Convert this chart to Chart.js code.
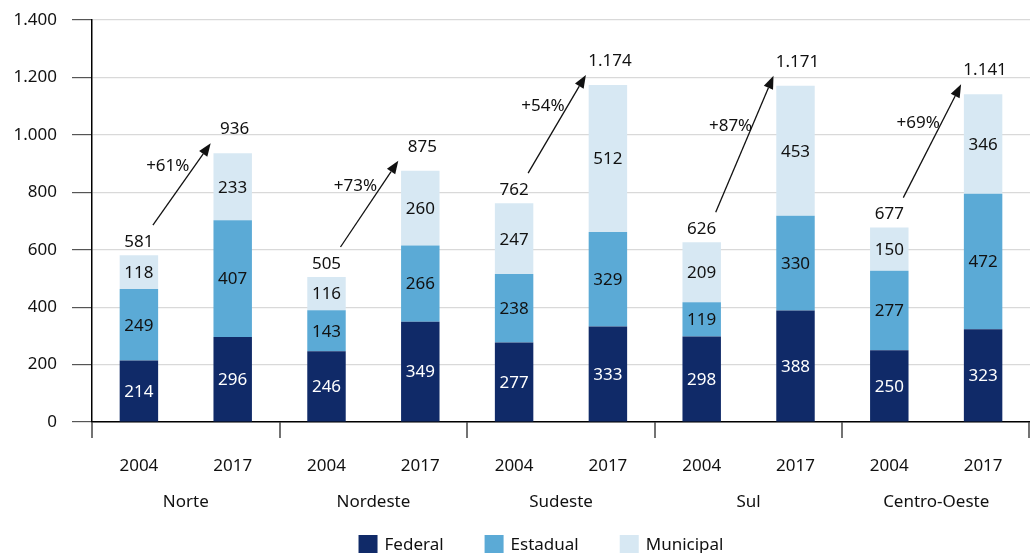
<!DOCTYPE html>
<html>
<head>
<meta charset="utf-8">
<script src="https://cdn.jsdelivr.net/npm/chart.js@4.4.1/dist/chart.umd.min.js"></script>
<style>
  html, body { margin: 0; padding: 0; background: #fff; }
  #wrap { width: 1030px; height: 553px; }
</style>
</head>
<body>
<div id="wrap"><canvas id="chart" width="1030" height="553"></canvas></div>
<script>
// data
const regions = ['Norte', 'Nordeste', 'Sudeste', 'Sul', 'Centro-Oeste'];
const years = ['2004', '2017'];
const federal = [214, 296, 246, 349, 277, 333, 298, 388, 250, 323];
const estadual = [249, 407, 143, 266, 238, 329, 119, 330, 277, 472];
const municipal = [118, 233, 116, 260, 247, 512, 209, 453, 150, 346];
const growth = ['+61%', '+73%', '+54%', '+87%', '+69%'];
const yMax = 1400;
const yStep = 200;

const FONT = '"Noto Sans", "Open Sans", sans-serif';
const colors = ['#102a68', '#5baad6', '#d7e8f3'];
const seriesNames = ['Federal', 'Estadual', 'Municipal'];

const labels = [];
regions.forEach(() => years.forEach(y => labels.push(y)));

const totals = federal.map((v, i) => v + estadual[i] + municipal[i]);

function fmt(v) {
    return String(v).replace(/\B(?=(\d{3})+(?!\d))/g, '.');
}

function arrow(ctx, x0, y0, x1, y1) {
    const a = Math.atan2(y1 - y0, x1 - x0);
    const len = 13, half = 5;
    ctx.beginPath();
    ctx.moveTo(x0, y0);
    ctx.lineTo(x1 - len * Math.cos(a), y1 - len * Math.sin(a));
    ctx.stroke();
    ctx.beginPath();
    ctx.moveTo(x1, y1);
    ctx.lineTo(x1 - len * Math.cos(a) + half * Math.sin(a), y1 - len * Math.sin(a) - half * Math.cos(a));
    ctx.lineTo(x1 - len * Math.cos(a) - half * Math.sin(a), y1 - len * Math.sin(a) + half * Math.cos(a));
    ctx.closePath();
    ctx.fill();
}

const extras = {
    id: 'extras',
    afterDatasetsDraw(chart) {
        const ctx = chart.ctx;
        const xs = chart.scales.x, ys = chart.scales.y;
        const area = chart.chartArea;
        ctx.save();
        ctx.font = '17px ' + FONT;
        ctx.textAlign = 'center';
        ctx.textBaseline = 'middle';

        // values inside the segments
        chart.data.datasets.forEach((ds, i) => {
            const meta = chart.getDatasetMeta(i);
            meta.data.forEach((bar, j) => {
                const p = bar.getProps(['x', 'y', 'base'], true);
                ctx.fillStyle = i === 0 ? '#ffffff' : '#111111';
                ctx.fillText(String(ds.data[j]), p.x, (p.y + p.base) / 2 + 1);
            });
        });

        // totals, arrows and growth
        ctx.fillStyle = '#111111';
        ctx.strokeStyle = '#111111';
        ctx.lineWidth = 1.3;
        regions.forEach((r, g) => {
            const j0 = g * 2, j1 = g * 2 + 1;
            const x0 = xs.getPixelForValue(j0), x1 = xs.getPixelForValue(j1);
            const l0y = ys.getPixelForValue(totals[j0]) - 13;
            const l1y = ys.getPixelForValue(totals[j1]) - 24;
            ctx.fillText(fmt(totals[j0]), x0, l0y);
            ctx.fillText(fmt(totals[j1]), x1 + 2, l1y);
            const ax = x0 + 14, ay = l0y - 17;
            const bx = x1 - 22, by = l1y + 14;
            arrow(ctx, ax, ay, bx, by);
            ctx.fillText(growth[g], (ax + bx) / 2 - 14, (ay + by) / 2 - 18);
        });

        // region separators and names under the axis
        const gw = (area.right - area.left) / regions.length;
        ctx.strokeStyle = '#444444';
        ctx.lineWidth = 1.5;
        for (let g = 0; g <= regions.length; g++) {
            const x = Math.round(area.left + g * gw) - (g === regions.length ? 1 : 0);
            ctx.beginPath();
            ctx.moveTo(x, area.bottom);
            ctx.lineTo(x, area.bottom + 16);
            ctx.stroke();
        }
        regions.forEach((r, g) => {
            ctx.fillText(r, area.left + (g + 0.5) * gw, area.bottom + 80);
        });

        // legend
        ctx.textAlign = 'left';
        const box = 19, gapText = 7, gapItem = 41;
        const widths = seriesNames.map(n => box + gapText + ctx.measureText(n).width);
        const total = widths.reduce((a, b) => a + b, 0) + gapItem * (widths.length - 1);
        let lx = 541 - total / 2;
        const ly = 535;
        seriesNames.forEach((n, i) => {
            ctx.fillStyle = colors[i];
            ctx.fillRect(lx, ly, box, box);
            ctx.fillStyle = '#111111';
            ctx.fillText(n, lx + box + gapText, ly + 10);
            lx += widths[i] + gapItem;
        });
        ctx.restore();
    }
};

const ctx = document.getElementById('chart').getContext('2d');
const myChart = new Chart(ctx, {
    type: 'bar',
    data: {
        labels: labels,
        datasets: [
            { label: seriesNames[0], data: federal, backgroundColor: colors[0] },
            { label: seriesNames[1], data: estadual, backgroundColor: colors[1] },
            { label: seriesNames[2], data: municipal, backgroundColor: colors[2] }
        ]
    },
    options: {
        responsive: false,
        animation: false,
        layout: { padding: { top: 20, right: -4, left: 0, bottom: 0 } },
        datasets: {
            bar: { barPercentage: 0.41, categoryPercentage: 1.0, borderWidth: 0 }
        },
        plugins: {
            legend: { display: false },
            tooltip: { enabled: false }
        },
        scales: {
            x: {
                stacked: true,
                offset: true,
                grid: { display: false },
                border: { display: true, color: '#000000', width: 1.5 },
                ticks: {
                    color: '#111111',
                    padding: 26,
                    font: { family: FONT, size: 17 },
                    maxRotation: 0,
                    autoSkip: false
                },
                afterFit(s) { s.height = 131; }
            },
            y: {
                stacked: true,
                min: 0,
                max: yMax,
                grid: {
                    color: '#d9d9d9',
                    lineWidth: 1.2,
                    tickColor: '#555555',
                    tickLength: 20
                },
                border: { display: true, color: '#000000', width: 1.5 },
                ticks: {
                    stepSize: yStep,
                    color: '#111111',
                    padding: 15,
                    font: { family: FONT, size: 17 },
                    callback: v => fmt(v)
                },
                afterFit(s) {
                    s.width = 92;
                    s.paddingTop = 0;
                    s.paddingBottom = 0;
                }
            }
        }
    },
    plugins: [extras]
});
</script>
</body>
</html>
